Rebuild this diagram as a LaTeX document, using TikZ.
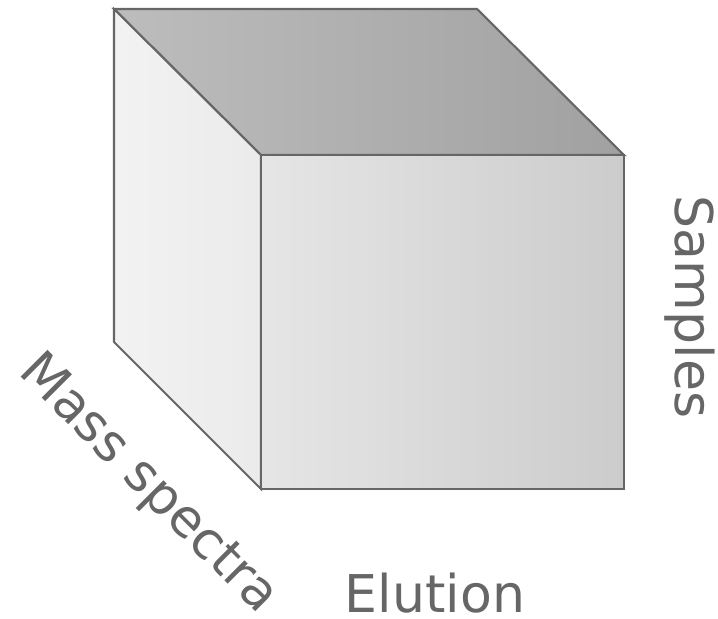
\documentclass[tikz,border=0pt]{standalone}
\usepackage{fontspec}
\setmainfont{DejaVu Sans}
\definecolor{edgegray}{HTML}{666666}
\begin{document}
\begin{tikzpicture}[x=0.01cm,y=-0.01cm,every node/.style={font=\fontsize{14.8}{17}\selectfont,text=edgegray,inner sep=0pt}]
\useasboundingbox (0,0) rectangle (718,618);
% cube corners
\coordinate (tl) at (114,9);
\coordinate (tr) at (477,9);
\coordinate (fl) at (261,155);
\coordinate (fr) at (624,155);
\coordinate (bl) at (261,489);
\coordinate (br) at (624,489);
\coordinate (bk) at (114,342);
% faces
\draw[edgegray,line width=0.6pt,left color=black!26,right color=black!37] (tl) -- (tr) -- (fr) -- (fl) -- cycle;
\draw[edgegray,line width=0.6pt,left color=black!5,right color=black!8] (tl) -- (fl) -- (bl) -- (bk) -- cycle;
\draw[edgegray,line width=0.6pt,left color=black!10,right color=black!20] (fl) -- (fr) -- (br) -- (bl) -- cycle;
% axis labels
\node[rotate=-90] (samples) at (690,307) {Samples};
\node (elution) at (435,593) {Elution};
\node[rotate=-45] (mass) at (148,485) {Mass spectra};
\end{tikzpicture}
\end{document}
